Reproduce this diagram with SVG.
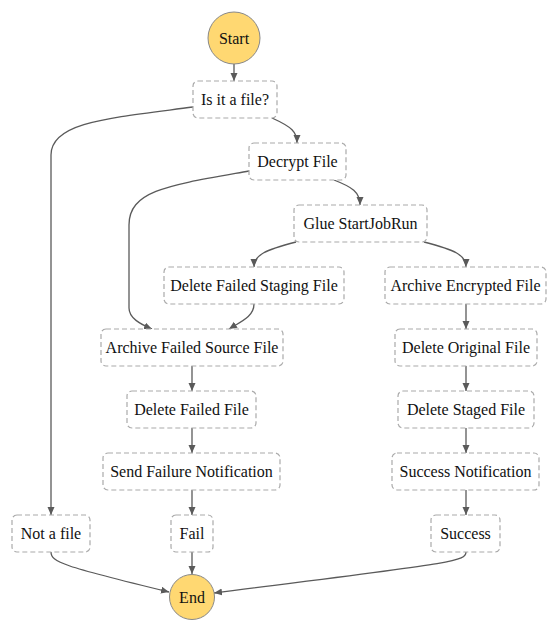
<svg xmlns="http://www.w3.org/2000/svg" width="559" height="630" viewBox="0 0 559 630">
<style>
.n rect{fill:#fff;stroke:#aaa;stroke-width:1.2;stroke-dasharray:5,3}
.c circle{fill:#ffd872;stroke:#888;stroke-width:1}
text{font-family:'Liberation Serif','Times New Roman','DejaVu Serif',serif;font-size:16px;fill:#111;text-anchor:middle}
.e path{fill:none;stroke:#5a5a5a;stroke-width:1.3}
</style>
<defs>
<marker id="a" markerUnits="userSpaceOnUse" markerWidth="10" markerHeight="8" refX="8" refY="3.5" orient="auto">
<path d="M0,0 L8,3.5 L0,7 z" fill="#5a5a5a"/>
</marker>
</defs>
<rect width="559" height="630" fill="#fff"/>
<g id="edges" class="e">
<path d="M234,64 L234,81" marker-end="url(#a)"/>
<path d="M272,118 C292,127 297,132 297,143" marker-end="url(#a)"/>
<path d="M193,107 C110,118 51,122 51,155 L51,515" marker-end="url(#a)"/>
<path d="M334,180 C352,187 360,192 360,205" marker-end="url(#a)"/>
<path d="M249,171 C170,185 129,190 129,225 L129,308 C129,318 140,324 152,329" marker-end="url(#a)"/>
<path d="M296,242 C265,250 254,255 254,267" marker-end="url(#a)"/>
<path d="M424,242 C455,250 466,255 466,267" marker-end="url(#a)"/>
<path d="M254,304 C254,317 240,322 229,329" marker-end="url(#a)"/>
<path d="M466,304 L466,329" marker-end="url(#a)"/>
<path d="M192,366 L192,391" marker-end="url(#a)"/>
<path d="M466,366 L466,391" marker-end="url(#a)"/>
<path d="M192,428 L192,453" marker-end="url(#a)"/>
<path d="M466,428 L466,453" marker-end="url(#a)"/>
<path d="M192,490 L192,515" marker-end="url(#a)"/>
<path d="M466,490 L466,515" marker-end="url(#a)"/>
<path d="M51,552 C51,562 62,566 169,592" marker-end="url(#a)"/>
<path d="M192,552 L192,574" marker-end="url(#a)"/>
<path d="M466,552 C466,562 450,563 214,593" marker-end="url(#a)"/>
</g>
<g font-family="Liberation Serif, Times New Roman, serif">
<g id="start" class="c"><circle cx="234" cy="38" r="26"/><text x="234" y="43.5">Start</text></g>
<g id="isfile" class="n"><rect x="193" y="81" width="84" height="37" rx="5"/><text x="235" y="105">Is it a file?</text></g>
<g id="decrypt" class="n"><rect x="249" y="143" width="97" height="37" rx="5"/><text x="297.5" y="167">Decrypt File</text></g>
<g id="glue" class="n"><rect x="294" y="205" width="133" height="37" rx="5"/><text x="360.5" y="229">Glue StartJobRun</text></g>
<g id="dfsf" class="n"><rect x="164" y="267" width="180" height="37" rx="5"/><text x="254" y="291">Delete Failed Staging File</text></g>
<g id="aef" class="n"><rect x="385" y="267" width="161" height="37" rx="5"/><text x="465.5" y="291">Archive Encrypted File</text></g>
<g id="afsf" class="n"><rect x="101" y="329" width="182" height="37" rx="5"/><text x="192" y="353">Archive Failed Source File</text></g>
<g id="dof" class="n"><rect x="395" y="329" width="142" height="37" rx="5"/><text x="466" y="353">Delete Original File</text></g>
<g id="dff" class="n"><rect x="127" y="391" width="129" height="37" rx="5"/><text x="191.5" y="415">Delete Failed File</text></g>
<g id="dsf" class="n"><rect x="398" y="391" width="136" height="37" rx="5"/><text x="466" y="415">Delete Staged File</text></g>
<g id="sfn" class="n"><rect x="103" y="453" width="177" height="37" rx="5"/><text x="191.5" y="477">Send Failure Notification</text></g>
<g id="sn" class="n"><rect x="392" y="453" width="147" height="37" rx="5"/><text x="465.5" y="477">Success Notification</text></g>
<g id="notafile" class="n"><rect x="12" y="515" width="78" height="37" rx="5"/><text x="51" y="539">Not a file</text></g>
<g id="fail" class="n"><rect x="171" y="515" width="42" height="37" rx="5"/><text x="192" y="539">Fail</text></g>
<g id="success" class="n"><rect x="431" y="515" width="69" height="37" rx="5"/><text x="465.5" y="539">Success</text></g>
<g id="end" class="c"><circle cx="192" cy="597" r="22.5"/><text x="192" y="602.5">End</text></g>
</g>
</svg>
